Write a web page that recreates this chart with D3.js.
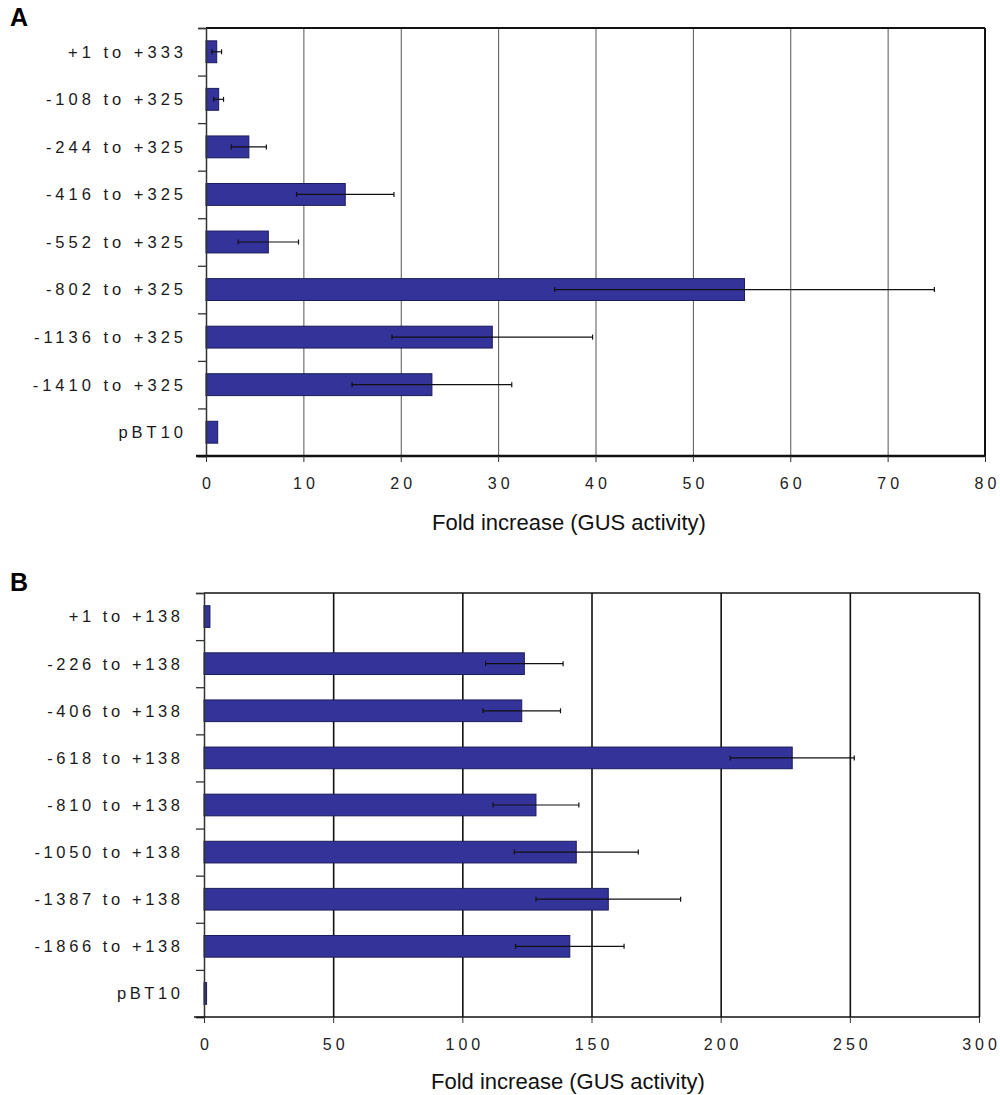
<!DOCTYPE html>
<html>
<head>
<meta charset="utf-8">
<script src="https://cdn.jsdelivr.net/npm/d3@7"></script>
<style>
  body { margin: 0; background: #fff; }
  text { font-family: "Liberation Sans", Arial, sans-serif; fill: #222; }
</style>
</head>
<body>
<div id="chart"></div>
<script>
// panel A data
var namesA = ["+1 to +333", "-108 to +325", "-244 to +325", "-416 to +325", "-552 to +325",
              "-802 to +325", "-1136 to +325", "-1410 to +325", "pBT10"];
var valuesA = [1.1, 1.3, 4.4, 14.3, 6.4, 55.3, 29.4, 23.2, 1.2];
var errorsA = [0.5, 0.5, 1.8, 5.0, 3.1, 19.5, 10.3, 8.2, 0];
var ticksA = [0, 10, 20, 30, 40, 50, 60, 70, 80];

// panel B data
var namesB = ["+1 to +138", "-226 to +138", "-406 to +138", "-618 to +138", "-810 to +138",
              "-1050 to +138", "-1387 to +138", "-1866 to +138", "pBT10"];
var valuesB = [2.3, 124, 123, 227.7, 128.5, 144.1, 156.5, 141.6, 1];
var errorsB = [0, 15, 15, 24, 16.6, 24, 28, 21, 0];
var ticksB = [0, 50, 100, 150, 200, 250, 300];

var axisTitle = "Fold increase (GUS activity)";

var svg = d3.select("#chart")
  .append("svg")
  .attr("width", 1000)
  .attr("height", 1095);

function drawPanel(opt) {
  var g = svg.append("g");

  var x = d3.scaleLinear().domain([0, d3.max(opt.ticks)]).range([opt.left, opt.right]);
  var y = d3.scaleBand().domain(opt.names).range([opt.top, opt.bottom]).paddingInner(0.54).paddingOuter(0.27);
  var yEdge = d3.scaleLinear().domain([0, opt.names.length]).range([opt.top, opt.bottom]);

  // panel letter
  g.append("text")
    .attr("x", 10)
    .attr("y", opt.top - 2)
    .style("font-size", "25px")
    .style("font-weight", "bold")
    .style("fill", "#000")
    .text(opt.letter);

  // vertical gridlines
  g.append("g")
    .attr("transform", "translate(0," + opt.bottom + ")")
    .call(d3.axisBottom(x).tickValues(opt.ticks.slice(1)).tickSize(-(opt.bottom - opt.top)).tickFormat(""))
    .call(function(s) { s.select(".domain").remove(); })
    .selectAll("line")
    .attr("stroke", opt.gridColor)
    .attr("stroke-width", opt.gridWidth);

  // top border
  g.append("line")
    .attr("x1", opt.left).attr("x2", opt.right)
    .attr("y1", opt.top).attr("y2", opt.top)
    .attr("stroke", "#111").attr("stroke-width", opt.topWidth);

  if (opt.rightBorder) {
    g.append("line")
      .attr("x1", opt.right).attr("x2", opt.right)
      .attr("y1", opt.top).attr("y2", opt.bottom)
      .attr("stroke", "#111").attr("stroke-width", 2);
  }

  // bars
  g.selectAll(".bar")
    .data(opt.values)
    .enter().append("rect")
    .attr("class", "bar")
    .attr("x", x(0))
    .attr("y", function(d, i) { return y(opt.names[i]); })
    .attr("width", function(d) { return x(d) - x(0); })
    .attr("height", y.bandwidth())
    .attr("fill", "#333399")
    .attr("stroke", "#1c1c5a")
    .attr("stroke-width", 1);

  // error bars
  var errData = opt.values.map(function(d, i) {
    return { v: d, e: opt.errors[i], name: opt.names[i] };
  }).filter(function(d) { return d.e > 0; });

  var eb = g.selectAll(".err")
    .data(errData)
    .enter().append("g")
    .attr("class", "err")
    .attr("transform", function(d) { return "translate(0," + (y(d.name) + y.bandwidth() / 2) + ")"; });

  eb.append("line")
    .attr("x1", function(d) { return x(d.v - d.e); })
    .attr("x2", function(d) { return x(d.v + d.e); })
    .attr("stroke", "#111").attr("stroke-width", 1.2);

  eb.selectAll(".cap")
    .data(function(d) { return [d.v - d.e, d.v + d.e]; })
    .enter().append("line")
    .attr("class", "cap")
    .attr("x1", function(d) { return x(d); })
    .attr("x2", function(d) { return x(d); })
    .attr("y1", -2.5).attr("y2", 2.5)
    .attr("stroke", "#111").attr("stroke-width", 1.2);

  // left axis with ticks at band edges
  var left = g.append("g")
    .attr("transform", "translate(" + opt.left + ",0)")
    .call(d3.axisLeft(yEdge).ticks(opt.names.length).tickSize(8).tickFormat(""));
  left.select(".domain").attr("stroke", "#333").attr("stroke-width", 1.5);
  left.selectAll(".tick line").attr("stroke", "#333").attr("stroke-width", 1.3);

  // category labels
  g.selectAll(".cat")
    .data(opt.names)
    .enter().append("text")
    .attr("class", "cat")
    .attr("x", opt.labelX + opt.spacing)
    .attr("y", function(d) { return y(d) + y.bandwidth() / 2; })
    .attr("dy", "0.36em")
    .attr("text-anchor", "end")
    .style("font-size", opt.labelSize + "px")
    .style("letter-spacing", opt.spacing + "px")
    .style("fill", "#1a1a1a")
    .text(function(d) { return d; });

  // bottom axis
  var bottom = g.append("g")
    .attr("transform", "translate(0," + opt.bottom + ")")
    .call(d3.axisBottom(x).tickValues(opt.ticks).tickSize(6).tickPadding(16));
  bottom.select(".domain")
    .attr("d", "M" + (opt.left - 10) + ",0H" + opt.right)
    .attr("stroke", "#111").attr("stroke-width", opt.bottomWidth);
  bottom.selectAll(".tick line").attr("stroke", "#333");
  bottom.selectAll(".tick text")
    .style("font-size", "16px")
    .style("letter-spacing", opt.tickSpacing + "px")
    .style("font-family", "'Liberation Sans', Arial, sans-serif")
    .attr("fill", "#222")
    .attr("dx", (opt.tickSpacing / 2) + "px");

  // axis title
  g.append("text")
    .attr("x", opt.titleX)
    .attr("y", opt.titleY)
    .attr("text-anchor", "middle")
    .style("font-size", "22px")
    .style("fill", "#111")
    .text(axisTitle);
}

drawPanel({
  letter: "A", names: namesA, values: valuesA, errors: errorsA, ticks: ticksA,
  left: 206, right: 985, top: 28, bottom: 456,
  labelX: 183, labelSize: 16.5, spacing: 4, tickSpacing: 4,
  gridColor: "#555", gridWidth: 1, topWidth: 2, bottomWidth: 2.5, rightBorder: true,
  titleX: 569, titleY: 530
});

drawPanel({
  letter: "B", names: namesB, values: valuesB, errors: errorsB, ticks: ticksB,
  left: 204, right: 979, top: 593, bottom: 1017,
  labelX: 180, labelSize: 16.5, spacing: 3.6, tickSpacing: 4,
  gridColor: "#111", gridWidth: 1.6, topWidth: 1.5, bottomWidth: 1.5, rightBorder: false,
  titleX: 568, titleY: 1089
});
</script>
</body>
</html>
